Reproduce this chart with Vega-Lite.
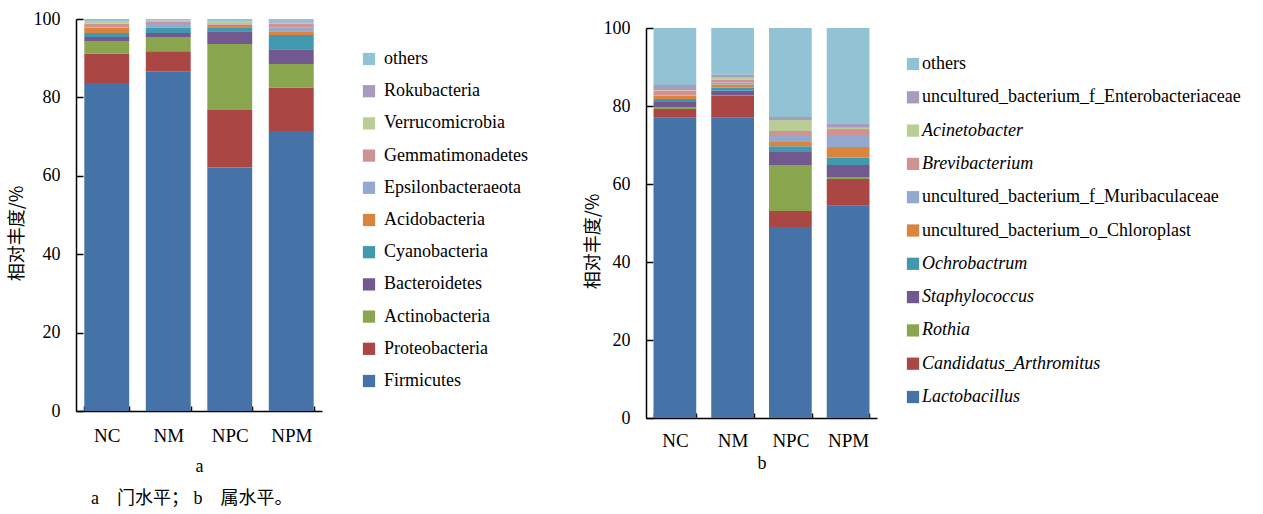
{
  "$schema": "https://vega.github.io/schema/vega-lite/v6.json",
  "background": "white",
  "padding": {"left": 8, "top": 10, "right": 5, "bottom": 5},
  "bounds": "flush",
  "spacing": 324,
  "title": {
    "text": "a　门水平； b　属水平。",
    "orient": "bottom",
    "anchor": "start",
    "dx": 83,
    "offset": 15,
    "font": "Liberation Serif, Noto Sans CJK SC",
    "fontSize": 18,
    "fontWeight": "normal",
    "color": "black"
  },
  "config": {
    "view": {"stroke": null},
    "axis": {
      "domainColor": "black",
      "domainWidth": 1.5,
      "tickColor": "black",
      "tickWidth": 1.5,
      "grid": false,
      "labelFont": "Liberation Serif",
      "labelColor": "black",
      "titleColor": "black",
      "titleFontWeight": "normal"
    },
    "legend": {
      "labelFont": "Liberation Serif",
      "labelFontSize": 18,
      "labelColor": "black",
      "labelLimit": 420,
      "symbolType": "square",
      "symbolSize": 150,
      "symbolStrokeWidth": 0,
      "orient": "none",
      "title": null
    }
  },
  "resolve": {"scale": {"color": "independent", "x": "independent", "y": "independent"}},
  "hconcat": [
    {
      "width": 246,
      "height": 392,
      "data": {
        "values": [
          {"group": "NC", "taxon": "Firmicutes", "pct": 83.7},
          {"group": "NC", "taxon": "Proteobacteria", "pct": 7.5},
          {"group": "NC", "taxon": "Actinobacteria", "pct": 3.2},
          {"group": "NC", "taxon": "Bacteroidetes", "pct": 1.0},
          {"group": "NC", "taxon": "Cyanobacteria", "pct": 1.0},
          {"group": "NC", "taxon": "Acidobacteria", "pct": 1.4},
          {"group": "NC", "taxon": "Epsilonbacteraeota", "pct": 0.1},
          {"group": "NC", "taxon": "Gemmatimonadetes", "pct": 0.9},
          {"group": "NC", "taxon": "Verrucomicrobia", "pct": 0.5},
          {"group": "NC", "taxon": "Rokubacteria", "pct": 0.1},
          {"group": "NC", "taxon": "others", "pct": 0.6},
          {"group": "NM", "taxon": "Firmicutes", "pct": 86.7},
          {"group": "NM", "taxon": "Proteobacteria", "pct": 5.1},
          {"group": "NM", "taxon": "Actinobacteria", "pct": 3.6},
          {"group": "NM", "taxon": "Bacteroidetes", "pct": 1.0},
          {"group": "NM", "taxon": "Cyanobacteria", "pct": 1.3},
          {"group": "NM", "taxon": "Acidobacteria", "pct": 0.2},
          {"group": "NM", "taxon": "Epsilonbacteraeota", "pct": 0.85},
          {"group": "NM", "taxon": "Gemmatimonadetes", "pct": 0.5},
          {"group": "NM", "taxon": "Verrucomicrobia", "pct": 0.1},
          {"group": "NM", "taxon": "Rokubacteria", "pct": 0.25},
          {"group": "NM", "taxon": "others", "pct": 0.4},
          {"group": "NPC", "taxon": "Firmicutes", "pct": 62.1},
          {"group": "NPC", "taxon": "Proteobacteria", "pct": 14.7},
          {"group": "NPC", "taxon": "Actinobacteria", "pct": 16.8},
          {"group": "NPC", "taxon": "Bacteroidetes", "pct": 3.3},
          {"group": "NPC", "taxon": "Cyanobacteria", "pct": 1.0},
          {"group": "NPC", "taxon": "Acidobacteria", "pct": 0.6},
          {"group": "NPC", "taxon": "Epsilonbacteraeota", "pct": 0.1},
          {"group": "NPC", "taxon": "Gemmatimonadetes", "pct": 0.3},
          {"group": "NPC", "taxon": "Verrucomicrobia", "pct": 0.5},
          {"group": "NPC", "taxon": "Rokubacteria", "pct": 0.1},
          {"group": "NPC", "taxon": "others", "pct": 0.5},
          {"group": "NPM", "taxon": "Firmicutes", "pct": 71.4},
          {"group": "NPM", "taxon": "Proteobacteria", "pct": 11.1},
          {"group": "NPM", "taxon": "Actinobacteria", "pct": 6.0},
          {"group": "NPM", "taxon": "Bacteroidetes", "pct": 3.8},
          {"group": "NPM", "taxon": "Cyanobacteria", "pct": 3.6},
          {"group": "NPM", "taxon": "Acidobacteria", "pct": 1.0},
          {"group": "NPM", "taxon": "Epsilonbacteraeota", "pct": 1.0},
          {"group": "NPM", "taxon": "Gemmatimonadetes", "pct": 0.8},
          {"group": "NPM", "taxon": "Verrucomicrobia", "pct": 0.2},
          {"group": "NPM", "taxon": "Rokubacteria", "pct": 0.3},
          {"group": "NPM", "taxon": "others", "pct": 0.8}
        ]
      },
      "transform": [
        {"calculate": "indexof(['Firmicutes','Proteobacteria','Actinobacteria','Bacteroidetes','Cyanobacteria','Acidobacteria','Epsilonbacteraeota','Gemmatimonadetes','Verrucomicrobia','Rokubacteria','others'], datum.taxon)", "as": "stackRank"}
      ],
      "mark": {"type": "bar"},
      "encoding": {
        "x": {
          "field": "group",
          "type": "nominal",
          "sort": ["NC", "NM", "NPC", "NPM"],
          "scale": {"paddingInner": 0.27, "paddingOuter": 0.135},
          "axis": {
            "title": "a",
            "titleFont": "Liberation Serif",
            "titleFontSize": 18,
            "titlePadding": 12,
            "labelAngle": 0,
            "labelFontSize": 19,
            "labelPadding": 20,
            "tickSize": -5,
            "tickBand": "extent"
          }
        },
        "y": {
          "field": "pct",
          "type": "quantitative",
          "stack": "zero",
          "scale": {"domain": [0, 100], "nice": false},
          "axis": {
            "title": "相对丰度/%",
            "titleFont": "Noto Sans CJK SC",
            "titleFontSize": 18,
            "titleX": -59,
            "titleY": 214,
            "titleAlign": "center",
            "titleBaseline": "middle",
            "titleAngle": 270,
            "values": [0, 20, 40, 60, 80, 100],
            "labelFontSize": 18,
            "tickSize": -7,
            "labelPadding": 23
          }
        },
        "order": {"field": "stackRank", "type": "quantitative", "sort": "ascending"},
        "color": {
          "field": "taxon",
          "type": "nominal",
          "scale": {
            "domain": ["others", "Rokubacteria", "Verrucomicrobia", "Gemmatimonadetes", "Epsilonbacteraeota", "Acidobacteria", "Cyanobacteria", "Bacteroidetes", "Actinobacteria", "Proteobacteria", "Firmicutes"],
            "range": ["#92C3D5", "#A99BBD", "#B9CD96", "#D19392", "#93A9CF", "#DB843D", "#4198AF", "#71588F", "#89A54E", "#AA4643", "#4572A7"]
          },
          "legend": {
            "legendX": 284,
            "legendY": 31,
            "rowPadding": 14.2,
            "labelOffset": 6,
            "labelFont": "Liberation Serif",
            "labelFontSize": 18
          }
        }
      }
    },
    {
      "width": 231,
      "height": 399,
      "data": {
        "values": [
          {"group": "NC", "taxon": "Lactobacillus", "pct": 77.0},
          {"group": "NC", "taxon": "Candidatus_Arthromitus", "pct": 2.2},
          {"group": "NC", "taxon": "Rothia", "pct": 0.4},
          {"group": "NC", "taxon": "Staphylococcus", "pct": 1.4},
          {"group": "NC", "taxon": "Ochrobactrum", "pct": 0.8},
          {"group": "NC", "taxon": "uncultured_bacterium_o_Chloroplast", "pct": 0.8},
          {"group": "NC", "taxon": "uncultured_bacterium_f_Muribaculaceae", "pct": 0.1},
          {"group": "NC", "taxon": "Brevibacterium", "pct": 1.3},
          {"group": "NC", "taxon": "Acinetobacter", "pct": 0.1},
          {"group": "NC", "taxon": "uncultured_bacterium_f_Enterobacteriaceae", "pct": 1.3},
          {"group": "NC", "taxon": "others", "pct": 14.6},
          {"group": "NM", "taxon": "Lactobacillus", "pct": 77.0},
          {"group": "NM", "taxon": "Candidatus_Arthromitus", "pct": 5.6},
          {"group": "NM", "taxon": "Rothia", "pct": 0.1},
          {"group": "NM", "taxon": "Staphylococcus", "pct": 1.2},
          {"group": "NM", "taxon": "Ochrobactrum", "pct": 0.8},
          {"group": "NM", "taxon": "uncultured_bacterium_o_Chloroplast", "pct": 0.8},
          {"group": "NM", "taxon": "uncultured_bacterium_f_Muribaculaceae", "pct": 0.5},
          {"group": "NM", "taxon": "Brevibacterium", "pct": 0.8},
          {"group": "NM", "taxon": "Acinetobacter", "pct": 0.5},
          {"group": "NM", "taxon": "uncultured_bacterium_f_Enterobacteriaceae", "pct": 0.7},
          {"group": "NM", "taxon": "others", "pct": 12.0},
          {"group": "NPC", "taxon": "Lactobacillus", "pct": 49.0},
          {"group": "NPC", "taxon": "Candidatus_Arthromitus", "pct": 4.1},
          {"group": "NPC", "taxon": "Rothia", "pct": 11.8},
          {"group": "NPC", "taxon": "Staphylococcus", "pct": 3.3},
          {"group": "NPC", "taxon": "Ochrobactrum", "pct": 1.5},
          {"group": "NPC", "taxon": "uncultured_bacterium_o_Chloroplast", "pct": 1.1},
          {"group": "NPC", "taxon": "uncultured_bacterium_f_Muribaculaceae", "pct": 1.5},
          {"group": "NPC", "taxon": "Brevibacterium", "pct": 1.3},
          {"group": "NPC", "taxon": "Acinetobacter", "pct": 2.8},
          {"group": "NPC", "taxon": "uncultured_bacterium_f_Enterobacteriaceae", "pct": 0.8},
          {"group": "NPC", "taxon": "others", "pct": 22.8},
          {"group": "NPM", "taxon": "Lactobacillus", "pct": 54.4},
          {"group": "NPM", "taxon": "Candidatus_Arthromitus", "pct": 6.9},
          {"group": "NPM", "taxon": "Rothia", "pct": 0.5},
          {"group": "NPM", "taxon": "Staphylococcus", "pct": 3.1},
          {"group": "NPM", "taxon": "Ochrobactrum", "pct": 1.8},
          {"group": "NPM", "taxon": "uncultured_bacterium_o_Chloroplast", "pct": 2.8},
          {"group": "NPM", "taxon": "uncultured_bacterium_f_Muribaculaceae", "pct": 2.8},
          {"group": "NPM", "taxon": "Brevibacterium", "pct": 1.8},
          {"group": "NPM", "taxon": "Acinetobacter", "pct": 0.3},
          {"group": "NPM", "taxon": "uncultured_bacterium_f_Enterobacteriaceae", "pct": 1.2},
          {"group": "NPM", "taxon": "others", "pct": 24.4}
        ]
      },
      "transform": [
        {"calculate": "indexof(['Lactobacillus','Candidatus_Arthromitus','Rothia','Staphylococcus','Ochrobactrum','uncultured_bacterium_o_Chloroplast','uncultured_bacterium_f_Muribaculaceae','Brevibacterium','Acinetobacter','uncultured_bacterium_f_Enterobacteriaceae','others'], datum.taxon)", "as": "stackRank"}
      ],
      "mark": {"type": "bar"},
      "encoding": {
        "x": {
          "field": "group",
          "type": "nominal",
          "sort": ["NC", "NM", "NPC", "NPM"],
          "scale": {"paddingInner": 0.26, "paddingOuter": 0.13},
          "axis": {
            "title": "b",
            "titleFont": "Liberation Serif",
            "titleFontSize": 18,
            "titlePadding": 4,
            "labelAngle": 0,
            "labelFontSize": 19,
            "labelPadding": 18,
            "tickSize": -5,
            "tickBand": "extent"
          }
        },
        "y": {
          "field": "pct",
          "type": "quantitative",
          "stack": "zero",
          "scale": {"domain": [0, 100], "nice": false, "range": [399, 9]},
          "axis": {
            "title": "相对丰度/%",
            "titleFont": "Noto Sans CJK SC",
            "titleFontSize": 18,
            "titleX": -53,
            "titleY": 222,
            "titleAlign": "center",
            "titleBaseline": "middle",
            "titleAngle": 270,
            "values": [0, 20, 40, 60, 80, 100],
            "labelFontSize": 18,
            "tickSize": -7,
            "labelPadding": 23
          }
        },
        "order": {"field": "stackRank", "type": "quantitative", "sort": "ascending"},
        "color": {
          "field": "taxon",
          "type": "nominal",
          "scale": {
            "domain": ["others", "uncultured_bacterium_f_Enterobacteriaceae", "Acinetobacter", "Brevibacterium", "uncultured_bacterium_f_Muribaculaceae", "uncultured_bacterium_o_Chloroplast", "Ochrobactrum", "Staphylococcus", "Rothia", "Candidatus_Arthromitus", "Lactobacillus"],
            "range": ["#92C3D5", "#A99BBD", "#B9CD96", "#D19392", "#93A9CF", "#DB843D", "#4198AF", "#71588F", "#89A54E", "#AA4643", "#4572A7"]
          },
          "legend": {
            "legendX": 258,
            "legendY": 36,
            "rowPadding": 15.3,
            "labelOffset": 0,
            "labelFont": "Liberation Serif",
            "labelFontSize": 18,
            "labelFontStyle": {"expr": "indexof(['Acinetobacter','Brevibacterium','Ochrobactrum','Staphylococcus','Rothia','Candidatus_Arthromitus','Lactobacillus'], datum.label) >= 0 ? 'italic' : 'normal'"}
          }
        }
      }
    }
  ]
}
